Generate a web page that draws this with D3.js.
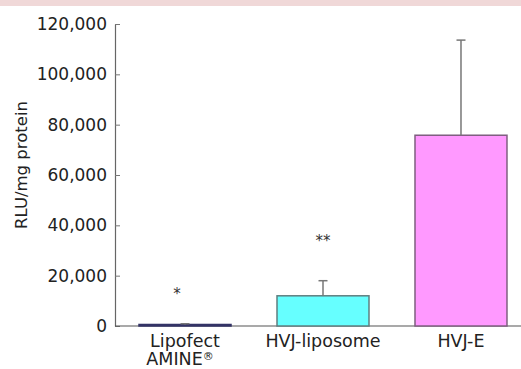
<!DOCTYPE html>
<html>
<head>
<meta charset="utf-8">
<script src="https://cdn.jsdelivr.net/npm/d3@7"></script>
<style>
  body { margin: 0; background: #fff; }
  svg { display: block; font-family: "DejaVu Sans", Verdana, sans-serif; }
</style>
</head>
<body>
<div id="chart"></div>
<script>
// data
const categories = ["Lipofect AMINE®", "HVJ-liposome", "HVJ-E"];
const labelLines = [["Lipofect", "AMINE"], ["HVJ-liposome"], ["HVJ-E"]];
const means = [600, 12000, 75800];
const errors = [300, 6000, 37800];
const marks = ["*", "**", ""];
const markValues = [13300, 34000, 0];
const barColors = ["#333366", "#66ffff", "#ff99ff"];
const barStrokes = ["#333366", "#5f7f80", "#7f5f80"];
const yTicks = [0, 20000, 40000, 60000, 80000, 100000, 120000];

const W = 521, H = 369;
const axisX = 115, baseY = 326, topY = 24;

const svg = d3.select("#chart").append("svg")
  .attr("width", W)
  .attr("height", H);

// pink strip at the top edge
svg.append("rect")
  .attr("x", 0).attr("y", 0)
  .attr("width", W).attr("height", 6)
  .attr("fill", "#f0d8d8");

const x = d3.scaleBand()
  .domain(categories)
  .range([axisX, 531])
  .paddingInner(1 / 3)
  .paddingOuter(0.174);

const y = d3.scaleLinear()
  .domain([0, 120000])
  .range([baseY, topY]);

// y axis, ticks pointing inward
const yAxis = svg.append("g")
  .attr("transform", `translate(${axisX},0)`)
  .call(d3.axisRight(y)
    .tickValues(yTicks)
    .tickSize(5)
    .tickSizeOuter(0)
    .tickFormat(d3.format(",")));
yAxis.select(".domain").attr("stroke", "#666").attr("stroke-width", 1.2);
yAxis.selectAll(".tick line").attr("stroke", "#777");
yAxis.selectAll(".tick text")
  .attr("x", -8)
  .attr("text-anchor", "end")
  .attr("fill", "#222")
  .style("font-size", "17px")
  .style("font-family", "'DejaVu Sans', Verdana, sans-serif");

// x axis baseline
svg.append("line")
  .attr("x1", axisX).attr("x2", W)
  .attr("y1", baseY).attr("y2", baseY)
  .attr("stroke", "#555")
  .attr("stroke-width", 1.2);

// bars
svg.selectAll(".bar")
  .data(categories)
  .join("rect")
  .attr("class", "bar")
  .attr("x", d => x(d))
  .attr("y", (d, i) => y(means[i]))
  .attr("width", x.bandwidth())
  .attr("height", (d, i) => baseY - y(means[i]))
  .attr("fill", (d, i) => barColors[i])
  .attr("stroke", (d, i) => barStrokes[i])
  .attr("stroke-width", 1.5);

// error bars (upper only)
const err = svg.selectAll(".err")
  .data(categories)
  .join("g")
  .attr("class", "err")
  .attr("stroke", "#777")
  .attr("stroke-width", 1.5);

err.append("line")
  .attr("x1", d => x(d) + x.bandwidth() / 2)
  .attr("x2", d => x(d) + x.bandwidth() / 2)
  .attr("y1", (d, i) => y(means[i]))
  .attr("y2", (d, i) => y(means[i] + errors[i]));

err.append("line")
  .attr("x1", d => x(d) + x.bandwidth() / 2 - 4.5)
  .attr("x2", d => x(d) + x.bandwidth() / 2 + 4.5)
  .attr("y1", (d, i) => y(means[i] + errors[i]))
  .attr("y2", (d, i) => y(means[i] + errors[i]));

// significance marks
svg.selectAll(".mark")
  .data(categories)
  .join("text")
  .attr("class", "mark")
  .attr("x", (d, i) => x(d) + x.bandwidth() / 2 - (i === 0 ? 8 : 0))
  .attr("y", (d, i) => y(markValues[i]) + 6)
  .attr("text-anchor", "middle")
  .style("font-size", "15px")
  .attr("fill", "#333")
  .text((d, i) => marks[i]);

// category labels
const lab = svg.selectAll(".cat")
  .data(categories)
  .join("text")
  .attr("class", "cat")
  .attr("text-anchor", "middle")
  .attr("fill", "#222")
  .style("font-size", "17.5px");

lab.each(function (d, i) {
  const cx = x(d) + x.bandwidth() / 2;
  const t = d3.select(this);
  labelLines[i].forEach((line, j) => {
    const sp = t.append("tspan")
      .attr("x", cx + (line === "AMINE" ? -5 : 0))
      .attr("y", 347 + j * 18)
      .text(line);
    if (line === "AMINE") {
      t.append("tspan")
        .attr("dy", -5)
        .style("font-size", "11px")
        .text("®");
    }
  });
});

// y axis title
svg.append("text")
  .attr("transform", `translate(27,165) rotate(-90)`)
  .attr("text-anchor", "middle")
  .attr("fill", "#222")
  .style("font-size", "16.5px")
  .text("RLU/mg protein");
</script>
</body>
</html>
